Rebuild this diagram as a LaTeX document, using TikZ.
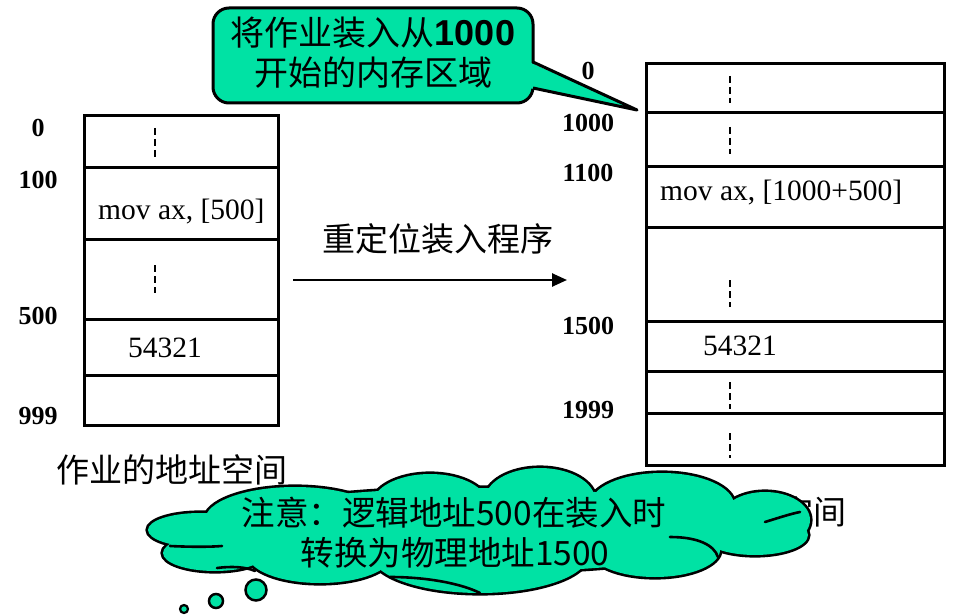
\documentclass[tikz,border=0pt]{standalone}
\usepackage{fontspec}
\usetikzlibrary{arrows.meta}
\newfontfamily\cjk{Noto Sans CJK SC}
\newfontfamily\labfont{Liberation Serif}
\newfontfamily\numsans{Liberation Sans}
\definecolor{bubgreen}{RGB}{0,226,164}
\tikzset{
  cell/.style={draw, line width=3pt, inner sep=0pt},
  lcell/.style={cell, minimum width=194pt},
  rcell/.style={cell, minimum width=298pt},
  dots/.style={line width=2.8pt, dash pattern=on 7pt off 4pt},
  lab/.style={font=\labfont\bfseries\fontsize{26}{28}\selectfont, inner sep=0pt},
  code/.style={font=\labfont\fontsize{29.5}{31}\selectfont, inner sep=0pt, anchor=west},
  cjktext/.style={font=\cjk\fontsize{33}{36}\selectfont, inner sep=0pt},
  cloudtext/.style={font=\cjk\fontsize{33.5}{36}\selectfont, inner sep=0pt},
  bubline/.style={line width=3pt, line join=round},
  puffline/.style={line width=2.6pt, line cap=round},
}
\begin{document}
\begin{tikzpicture}[x=1pt,y=-1pt]
\useasboundingbox (0,0) rectangle (959,615);

% ---- left box
\node[lcell, minimum height=52pt] (L1) at (181,142) {};
\node[lcell, minimum height=71pt] (L2) at (181,203.5) {};
\node[lcell, minimum height=80pt] (L3) at (181,279) {};
\node[lcell, minimum height=56pt] (L4) at (181,347) {};
\node[lcell, minimum height=50pt] (L5) at (181,400) {};
\draw[dots] (155,128) -- (155,157);
\draw[dots] (155,265) -- (155,293);
\node[code] (lc1) at (98,212) {mov ax, [500]};
\node[code] (lc2) at (128,348) {54321};

\node[lab] (la0) at (38,128) {0};
\node[lab] (la1) at (38,180) {100};
\node[lab] (la2) at (38,316) {500};
\node[lab] (la3) at (38,416) {999};
\node[cjktext] (ltitle) at (172,470) {作业的地址空间};

% ---- right box
\node[rcell, minimum height=49pt] (R1) at (795,88.5) {};
\node[rcell, minimum height=54pt] (R2) at (795,140) {};
\node[rcell, minimum height=60pt] (R3) at (795,197) {};
\node[rcell, minimum height=94pt] (R4) at (795,274) {};
\node[rcell, minimum height=50pt] (R5) at (795,346) {};
\node[rcell, minimum height=42pt] (R6) at (795,392) {};
\node[rcell, minimum height=52pt] (R7) at (795,439) {};
\draw[dots] (730,76) -- (730,103);
\draw[dots] (730,127) -- (730,154);
\draw[dots] (730,280) -- (730,307);
\draw[dots] (730,382) -- (730,409);
\draw[dots] (730,433) -- (730,458);
\node[code] (rc1) at (660,193) {mov ax, [1000+500]};
\node[code] (rc2) at (703,346) {54321};

\node[lab] (ra0) at (588,71) {0};
\node[lab] (ra1) at (588,123) {1000};
\node[lab] (ra2) at (588,173) {1100};
\node[lab] (ra3) at (588,326) {1500};
\node[lab] (ra4) at (588,410) {1999};

% ---- arrow
\coordinate (as) at (293,280);
\coordinate (ae) at (567,280);
\draw[line width=2.5pt, -{Triangle[length=15pt,width=13pt]}] (as) -- (ae);
\node[cjktext] (alab) at (438,239) {重定位装入程序};

% ---- callout bubble
\draw[bubline, fill=bubgreen, rounded corners=16pt] (213,8) rectangle (533,103);
\coordinate (tip) at (637,110);
\fill[bubgreen] (529,62) -- (tip) -- (529,88) -- cycle;
\draw[bubline] (533,62) -- (tip) -- (533,88);
\node[cjktext, font=\cjk\fontsize{34}{36}\selectfont] (b1) at (373,33) {将作业装入从{\numsans\bfseries\fontsize{36}{36}\selectfont 1000}};
\node[cjktext, font=\cjk\fontsize{34}{36}\selectfont] (b2) at (373,73) {开始的内存区域};

% ---- caption mostly hidden behind the cloud
\node[cjktext, anchor=east] (rtitle) at (847,512) {内存空间};

% ---- cloud: union of puffs (outline drawn double width, then filled)
\def\puffs{200/530/52/17, 215/553/52/18, 295/520/90/33, 430/505/58/31,
  540/500/55/32, 662/505/72/32, 765/520/45/28, 755/535/53/20,
  655/550/65/27, 480/555/108/38, 320/555/72/28, 480/530/270/42}
\foreach \cx/\cy/\rx/\ry in \puffs
  \draw[line width=5.2pt] (\cx,\cy) ellipse [x radius=\rx, y radius=\ry];
\foreach \cx/\cy/\rx/\ry in \puffs
  \fill[bubgreen] (\cx,\cy) ellipse [x radius=\rx, y radius=\ry];
% inner puff strokes
\draw[puffline] (170,546) .. controls (190,547) and (210,547) .. (222,546);
\draw[puffline] (217,568) .. controls (232,566) and (246,567) .. (255,571);
\draw[puffline] (390,577) .. controls (425,577) and (460,583) .. (480,593);
\draw[puffline] (670,537) .. controls (698,537) and (714,545) .. (718,557);
\draw[puffline] (765,522) .. controls (778,518) and (790,514) .. (800,512);

\node[cloudtext] (c1) at (454,513) {注意：逻辑地址500在装入时};
\node[cloudtext] (c2) at (455,553) {转换为物理地址1500};
\node[circle, draw, fill=bubgreen, line width=2.5pt, minimum size=21pt, inner sep=0pt] (t1) at (256,590) {};
\node[circle, draw, fill=bubgreen, line width=2.5pt, minimum size=14pt, inner sep=0pt] (t2) at (216,601) {};
\node[circle, draw, fill=bubgreen, line width=2.2pt, minimum size=8pt, inner sep=0pt] (t3) at (184,609) {};
\end{tikzpicture}
\end{document}
